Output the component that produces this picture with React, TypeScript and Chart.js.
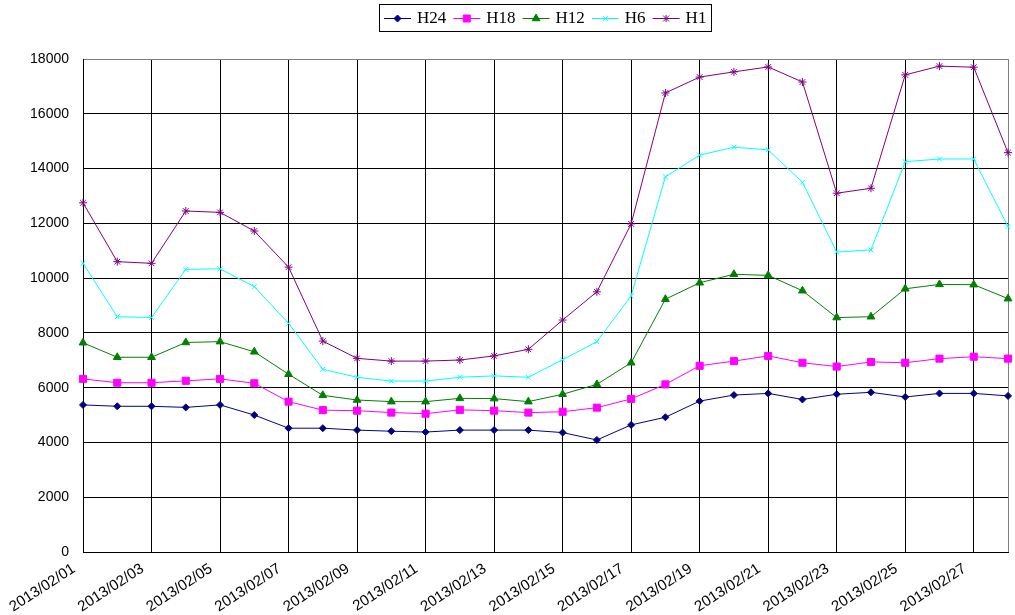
import React, { useEffect, useRef } from 'react';
import { Chart, registerables } from 'chart.js';

Chart.register(...registerables);

const dates = [
  '2013/02/01', '2013/02/02', '2013/02/03', '2013/02/04', '2013/02/05', '2013/02/06', '2013/02/07',
  '2013/02/08', '2013/02/09', '2013/02/10', '2013/02/11', '2013/02/12', '2013/02/13', '2013/02/14',
  '2013/02/15', '2013/02/16', '2013/02/17', '2013/02/18', '2013/02/19', '2013/02/20', '2013/02/21',
  '2013/02/22', '2013/02/23', '2013/02/24', '2013/02/25', '2013/02/26', '2013/02/27', '2013/02/28',
];

const H24 = [5370, 5320, 5320, 5280, 5370, 5000, 4520, 4520, 4450, 4410, 4380, 4450, 4450, 4450,
  4360, 4090, 4640, 4920, 5510, 5730, 5790, 5570, 5760, 5830, 5660, 5790, 5790, 5700];
const H18 = [6320, 6180, 6180, 6250, 6320, 6160, 5490, 5180, 5160, 5090, 5050, 5190, 5160, 5090,
  5120, 5270, 5590, 6120, 6800, 6970, 7160, 6910, 6770, 6940, 6910, 7060, 7130, 7060];
const H12 = [7640, 7110, 7110, 7650, 7680, 7310, 6490, 5720, 5550, 5490, 5490, 5610, 5600, 5490,
  5760, 6120, 6910, 9230, 9830, 10140, 10100, 9540, 8560, 8590, 9610, 9770, 9760, 9250];
const H6 = [10540, 8590, 8560, 10320, 10340, 9690, 8350, 6670, 6380, 6240, 6240, 6380, 6430, 6380,
  7020, 7680, 9350, 13700, 14490, 14780, 14680, 13500, 10950, 11030, 14250, 14350, 14350, 11880];
const H1 = [12750, 10600, 10540, 12450, 12400, 11720, 10400, 7700, 7070, 6970, 6970, 7010, 7160, 7400,
  8470, 9500, 11980, 16760, 17340, 17530, 17710, 17160, 13100, 13280, 17420, 17740, 17700, 14580];

const seriesNames = ['H24', 'H18', 'H12', 'H6', 'H1'];
const seriesValues = [H24, H18, H12, H6, H1];
const seriesColors = ['#000080', '#FF00FF', '#008000', '#00FFFF', '#800080'];
const seriesMarkers = ['diamond', 'square', 'triangle', 'x', 'star'];

const yMax = 18000;
const yStep = 2000;

const yTickFont = { family: "'Liberation Sans', Arial, sans-serif", size: 14 };
const xTickFont = { family: "'Liberation Sans', Arial, sans-serif", size: 15 };
const legendFont = "17px 'Liberation Serif', 'Times New Roman', serif";

function drawMarker(ctx: CanvasRenderingContext2D, kind: string, x: number, y: number, color: string) {
  ctx.save();
  ctx.fillStyle = color;
  ctx.strokeStyle = color;
  ctx.lineWidth = 1;
  ctx.beginPath();
  if (kind === 'diamond') {
    const r = 3.5;
    ctx.moveTo(x, y - r); ctx.lineTo(x + r, y); ctx.lineTo(x, y + r); ctx.lineTo(x - r, y); ctx.closePath();
    ctx.fill(); ctx.stroke();
  } else if (kind === 'square') {
    const s = 3.5;
    ctx.rect(x - s, y - s, 2 * s, 2 * s);
    ctx.fill(); ctx.stroke();
  } else if (kind === 'triangle') {
    const r = 4.5;
    ctx.moveTo(x, y - r); ctx.lineTo(x + r * 0.866, y + r / 2); ctx.lineTo(x - r * 0.866, y + r / 2); ctx.closePath();
    ctx.fill(); ctx.stroke();
  } else if (kind === 'x') {
    const r = 2.5;
    ctx.moveTo(x - r, y - r); ctx.lineTo(x + r, y + r); ctx.moveTo(x + r, y - r); ctx.lineTo(x - r, y + r);
    ctx.stroke();
  } else {
    const r = 3;
    ctx.moveTo(x - r, y - r); ctx.lineTo(x + r, y + r); ctx.moveTo(x + r, y - r); ctx.lineTo(x - r, y + r);
    ctx.moveTo(x, y - r - 0.5); ctx.lineTo(x, y + r + 0.5);
    ctx.stroke();
  }
  ctx.restore();
}

const legendPlugin = {
  id: 'boxLegend',
  afterDraw(chart: any) {
    const ctx: CanvasRenderingContext2D = chart.ctx;
    ctx.save();
    ctx.font = legendFont;
    const lineLen = 27;
    const gapLT = 6;
    const gapItem = 7;
    const padX = 5;
    const widths = seriesNames.map((n) => ctx.measureText(n).width);
    let total = padX * 2 + gapItem * (seriesNames.length - 1);
    widths.forEach((w) => { total += lineLen + gapLT + w; });
    const cx = (chart.chartArea.left + chart.chartArea.right) / 2;
    const left = Math.round(cx - total / 2);
    const top = 4;
    const h = 27;
    ctx.strokeStyle = '#000';
    ctx.lineWidth = 1;
    ctx.strokeRect(left + 0.5, top + 0.5, Math.round(total), h);
    const cy = top + h / 2 + 0.5;
    let x = left + padX;
    seriesNames.forEach((n, i) => {
      ctx.strokeStyle = seriesColors[i];
      ctx.lineWidth = 1;
      ctx.beginPath();
      ctx.moveTo(x, Math.round(cy) + 0.5);
      ctx.lineTo(x + lineLen, Math.round(cy) + 0.5);
      ctx.stroke();
      drawMarker(ctx, seriesMarkers[i], x + lineLen / 2, Math.round(cy) + 0.5, seriesColors[i]);
      ctx.fillStyle = '#000';
      ctx.textBaseline = 'middle';
      ctx.textAlign = 'left';
      ctx.fillText(n, x + lineLen + gapLT, cy + 1);
      x += lineLen + gapLT + widths[i] + gapItem;
    });
    ctx.restore();
  },
};

const pointStyleMap: Record<string, any> = {
  diamond: 'rectRot',
  square: 'rect',
  triangle: 'triangle',
  x: 'crossRot',
  star: 'star',
};
const pointRadiusMap: Record<string, number> = {
  diamond: 3.5,
  square: 5,
  triangle: 4.5,
  x: 3.5,
  star: 4,
};

export default function App() {
  const ref = useRef<HTMLCanvasElement>(null);
  useEffect(() => {
    if (!ref.current) return;
    const datasets = seriesNames.map((name, i) => ({
      label: name,
      data: seriesValues[i],
      borderColor: seriesColors[i],
      backgroundColor: seriesColors[i],
      borderWidth: 1,
      pointStyle: pointStyleMap[seriesMarkers[i]],
      pointRadius: pointRadiusMap[seriesMarkers[i]],
      pointBorderWidth: 1,
      pointBackgroundColor: seriesColors[i],
      pointBorderColor: seriesColors[i],
      tension: 0,
      fill: false,
    }));
    const chart = new Chart(ref.current, {
      type: 'line',
      data: { labels: dates, datasets },
      options: {
        responsive: false,
        animation: false,
        devicePixelRatio: 1,
        layout: { padding: { top: 59, right: 7, left: 0, bottom: 0 } },
        plugins: {
          legend: { display: false },
          tooltip: { enabled: false },
          title: { display: false },
        },
        scales: {
          x: {
            type: 'category',
            offset: false,
            grid: {
              color: (c: any) => (c.index === dates.length - 1 ? '#808080' : (c.index % 2 === 0 ? '#000' : 'rgba(0,0,0,0)')),
              lineWidth: 1,
              drawTicks: false,
            },
            border: { color: '#000', width: 1 },
            ticks: {
              autoSkip: false,
              maxRotation: 33,
              minRotation: 33,
              color: '#000',
              font: xTickFont,
              padding: 8,
              labelOffset: -9,
              callback: (_v: any, i: number) => (i % 2 === 0 ? dates[i] : ''),
            },
            afterFit: (s: any) => { s.height = 63; s.paddingLeft = 0; s.paddingRight = 0; },
          },
          y: {
            min: 0,
            max: yMax,
            grid: {
              color: (c: any) => (c.tick && c.tick.value === yMax ? '#808080' : '#000'),
              lineWidth: 1,
              drawTicks: false,
            },
            border: { color: '#000', width: 1 },
            ticks: {
              stepSize: yStep,
              color: '#000',
              font: yTickFont,
              padding: 14,
              callback: (v: any) => String(v),
            },
            afterFit: (s: any) => { s.width = 83; s.paddingTop = 0; s.paddingBottom = 0; },
          },
        },
      },
      plugins: [legendPlugin],
    } as any);
    return () => chart.destroy();
  }, []);
  return (
    <div style={{ position: 'absolute', left: 0, top: 0, width: 1015, height: 615, background: '#fff' }}>
      <canvas ref={ref} width={1015} height={615} style={{ display: 'block', width: 1015, height: 615 }} />
    </div>
  );
}
